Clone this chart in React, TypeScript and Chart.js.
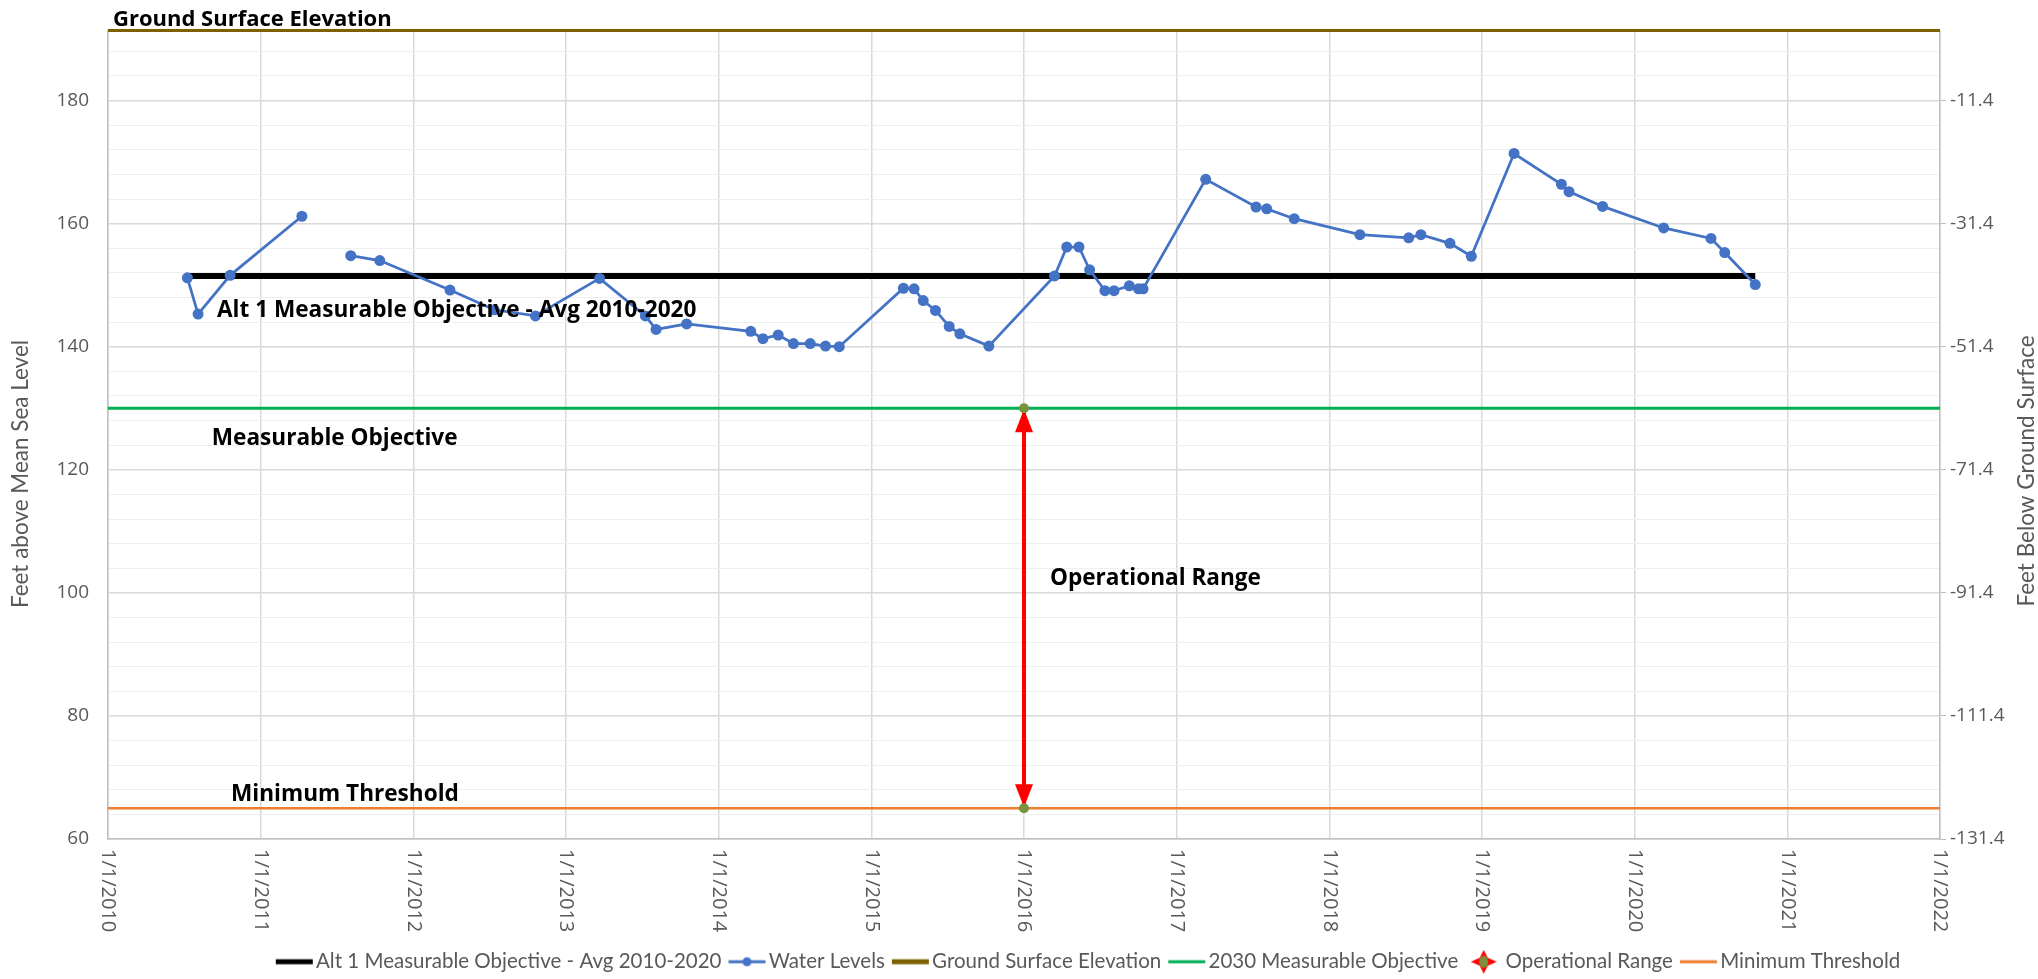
import React, { useEffect, useRef } from "react";
import { Chart, registerables } from "chart.js";
Chart.register(...registerables);

// ---------- data ----------
const waterYears = [
  2010.52, 2010.59, 2010.8, 2011.27, 2011.43, 2011.59, 2011.78, 2012.24, 2012.53, 2012.8,
  2013.22, 2013.52, 2013.59, 2013.79, 2014.21, 2014.29, 2014.39, 2014.49, 2014.6, 2014.7,
  2014.79, 2015.21, 2015.28, 2015.34, 2015.42, 2015.51, 2015.58, 2015.77, 2016.2, 2016.28,
  2016.36, 2016.43, 2016.53, 2016.59, 2016.69, 2016.75, 2016.78, 2017.19, 2017.52, 2017.59,
  2017.77, 2018.2, 2018.52, 2018.6, 2018.79, 2018.93, 2019.21, 2019.52, 2019.57, 2019.79,
  2020.19, 2020.5, 2020.59, 2020.79,
];
const waterLevels: (number | null)[] = [
  151.2, 145.3, 151.6, 161.2, null, 154.8, 154.0, 149.2, 146.0, 145.0,
  151.1, 145.0, 142.8, 143.7, 142.5, 141.3, 141.9, 140.5, 140.5, 140.1,
  140.0, 149.5, 149.4, 147.5, 145.9, 143.3, 142.1, 140.1, 151.5, 156.2,
  156.2, 152.5, 149.1, 149.1, 149.9, 149.4, 149.4, 167.2, 162.7, 162.4,
  160.8, 158.2, 157.7, 158.2, 156.8, 154.7, 171.4, 166.4, 165.2, 162.8,
  159.3, 157.6, 155.3, 150.1,
];

const groundSurfaceElevation = 191.4;
const measurableObjective2030 = 130;
const minimumThreshold = 65;
const alt1Objective = 151.5;
const alt1Years = [2010.52, 2020.79];
const operationalRangeYear = 2016;
const xYears = [2010, 2011, 2012, 2013, 2014, 2015, 2016, 2017, 2018, 2019, 2020, 2021, 2022];
const leftTickLabels = [60, 80, 100, 120, 140, 160, 180];
const leftGridLines = [
  60, 64, 68, 72, 76, 80, 84, 88, 92, 96, 100, 104, 108, 112, 116, 120, 124, 128, 132, 136,
  140, 144, 148, 152, 156, 160, 164, 168, 172, 176, 180, 184, 188,
];
const rightTickLabels = [-131.4, -111.4, -91.4, -71.4, -51.4, -31.4, -11.4];

const seriesNames = [
  "Alt 1 Measurable Objective - Avg 2010-2020",
  "Water Levels",
  "Ground Surface Elevation",
  "2030 Measurable Objective",
  "Operational Range",
  "Minimum Threshold",
];

// ---------- styles ----------
const GREY = "#595959";
const TICK_FONT = "Open Sans";
const LABEL_FONT = "Lato";
const NOTE_FONT = "Open Sans";
const BLUE = "#4472C4";
const BROWN = "#7F6000";
const GREEN = "#00B050";
const ORANGE = "#ED7D31";
const RED = "#FF0000";
const OLIVE = "#77933C";

// legend symbol canvas: 48 wide, centred on the 32px legend box, so the
// visible mark sits at the right end, close to the text
function makeSymbol(kind: string, color: string): HTMLCanvasElement {
  const c = document.createElement("canvas");
  c.width = 48;
  c.height = 24;
  const g = c.getContext("2d")!;
  const x0 = 10;
  const x1 = 47;
  const cx = (x0 + x1) / 2;
  if (kind === "diamond") {
    g.fillStyle = RED;
    g.beginPath();
    g.moveTo(cx, 0);
    g.lineTo(cx + 4, 8);
    g.lineTo(cx + 13, 12);
    g.lineTo(cx + 4, 16);
    g.lineTo(cx, 24);
    g.lineTo(cx - 4, 16);
    g.lineTo(cx - 13, 12);
    g.lineTo(cx - 4, 8);
    g.closePath();
    g.fill();
    g.fillStyle = OLIVE;
    g.beginPath();
    g.ellipse(cx, 12, 4.5, 6, 0, 0, Math.PI * 2);
    g.fill();
    return c;
  }
  g.strokeStyle = color;
  g.lineWidth = kind === "thick" ? 5 : 3;
  g.beginPath();
  g.moveTo(x0, 12);
  g.lineTo(x1, 12);
  g.stroke();
  if (kind === "marker") {
    g.fillStyle = color;
    g.beginPath();
    g.arc(cx, 12, 4.5, 0, Math.PI * 2);
    g.fill();
  }
  return c;
}

const overlayPlugin = {
  id: "overlay",
  afterLayout(chart: any) {
    const lg = chart.legend;
    if (lg) {
      lg.left += 68;
      lg.right += 68;
      lg.top += 3;
      lg.bottom += 3;
    }
  },
  beforeDatasetsDraw(chart: any) {
    const { ctx, scales } = chart;
    const x = scales.x.getPixelForValue(operationalRangeYear);
    const yTop = scales.y.getPixelForValue(measurableObjective2030);
    const yBot = scales.y.getPixelForValue(minimumThreshold);
    ctx.save();
    ctx.fillStyle = RED;
    ctx.beginPath();
    ctx.moveTo(x, yTop + 1);
    ctx.lineTo(x + 9, yTop + 24);
    ctx.lineTo(x - 9, yTop + 24);
    ctx.closePath();
    ctx.fill();
    ctx.beginPath();
    ctx.moveTo(x, yBot - 1);
    ctx.lineTo(x + 9, yBot - 24);
    ctx.lineTo(x - 9, yBot - 24);
    ctx.closePath();
    ctx.fill();
    ctx.restore();
  },
  afterDraw(chart: any) {
    const { ctx, scales, chartArea } = chart;
    const sx = scales.x;
    const sy = scales.y;
    ctx.save();
    // annotations
    ctx.fillStyle = "#000";
    ctx.textAlign = "left";
    ctx.textBaseline = "middle";
    ctx.font = `bold 22px ${NOTE_FONT}`;
    ctx.fillText("Ground Surface Elevation", chartArea.left + 5, chartArea.top - 11);
    ctx.font = `bold 22.6px ${NOTE_FONT}`;
    ctx.fillText("Alt 1 Measurable Objective - Avg 2010-2020", sx.getPixelForValue(2010.714), sy.getPixelForValue(145.8));
    ctx.fillText("Measurable Objective", sx.getPixelForValue(2010.68), sy.getPixelForValue(125));
    ctx.fillText("Operational Range", sx.getPixelForValue(2016.17), sy.getPixelForValue(102.4));
    ctx.fillText("Minimum Threshold", sx.getPixelForValue(2010.806), sy.getPixelForValue(67.2));

    // x tick labels rotated clockwise
    ctx.fillStyle = GREY;
    ctx.font = `20px ${TICK_FONT}`;
    for (const yr of xYears) {
      const px = sx.getPixelForValue(yr);
      ctx.save();
      ctx.translate(px, chartArea.bottom + 10);
      ctx.rotate(Math.PI / 2);
      ctx.textAlign = "left";
      ctx.textBaseline = "middle";
      ctx.fillText(`1/1/${yr}`, 0, 0);
      ctx.restore();
    }

    // axis titles
    ctx.font = `22.5px ${LABEL_FONT}`;
    ctx.fillStyle = GREY;
    ctx.textAlign = "center";
    ctx.textBaseline = "middle";
    ctx.save();
    ctx.translate(21, 474);
    ctx.rotate(-Math.PI / 2);
    ctx.fillText("Feet above Mean Sea Level", 0, 0);
    ctx.restore();
    ctx.save();
    ctx.translate(2027, 471);
    ctx.rotate(-Math.PI / 2);
    ctx.fillText("Feet Below Ground Surface", 0, 0);
    ctx.restore();
    ctx.restore();
  },
};

export default function App() {
  const ref = useRef<HTMLCanvasElement>(null);
  useEffect(() => {
    document.body.style.margin = "0";
    const symbols = [
      makeSymbol("thick", "#000"),
      makeSymbol("marker", BLUE),
      makeSymbol("thick", BROWN),
      makeSymbol("line", GREEN),
      makeSymbol("diamond", RED),
      makeSymbol("line", ORANGE),
    ];
    const xFull = [xYears[0], xYears[xYears.length - 1]];
    const chart = new Chart(ref.current!, {
      type: "line",
      data: {
        datasets: [
          {
            label: seriesNames[0],
            data: alt1Years.map((x) => ({ x, y: alt1Objective })),
            borderColor: "#000",
            borderWidth: 6,
            pointRadius: 0,
            order: 1,
          },
          {
            label: seriesNames[1],
            data: waterYears.map((x, i) => ({ x, y: waterLevels[i] })),
            borderColor: BLUE,
            backgroundColor: BLUE,
            borderWidth: 2.75,
            pointRadius: 5.5,
            pointBorderWidth: 0,
            spanGaps: false,
            order: 0,
          },
          {
            label: seriesNames[2],
            data: xFull.map((x) => ({ x, y: groundSurfaceElevation })),
            borderColor: BROWN,
            borderWidth: 3,
            pointRadius: 0,
            clip: false,
            order: 2,
          },
          {
            label: seriesNames[3],
            data: xFull.map((x) => ({ x, y: measurableObjective2030 })),
            borderColor: GREEN,
            borderWidth: 3,
            pointRadius: 0,
            order: 3,
          },
          {
            label: seriesNames[4],
            data: [
              { x: operationalRangeYear, y: measurableObjective2030 },
              { x: operationalRangeYear, y: minimumThreshold },
            ],
            borderColor: RED,
            backgroundColor: OLIVE,
            borderWidth: 4,
            pointRadius: 5,
            pointBorderWidth: 0,
            order: 2,
          },
          {
            label: seriesNames[5],
            data: xFull.map((x) => ({ x, y: minimumThreshold })),
            borderColor: ORANGE,
            borderWidth: 2.5,
            pointRadius: 0,
            order: 4,
          },
        ],
      },
      options: {
        responsive: false,
        animation: false,
        devicePixelRatio: 1,
        layout: { padding: { top: 28.6, left: 0, right: 0, bottom: 0 } },
        plugins: {
          tooltip: { enabled: false },
          legend: {
            position: "bottom",
            labels: {
              usePointStyle: true,
              pointStyleWidth: 32,
              padding: 5,
              color: GREY,
              font: { family: LABEL_FONT, size: 20.5 },
              sort: (a: any, b: any) => a.datasetIndex - b.datasetIndex,
              generateLabels: (ch: any) =>
                ch.data.datasets.map((d: any, i: number) => ({
                  text: d.label,
                  datasetIndex: i,
                  pointStyle: symbols[i],
                  fillStyle: "transparent",
                  strokeStyle: "transparent",
                  lineWidth: 0,
                  fontColor: GREY,
                  hidden: false,
                })),
            },
          },
        },
        scales: {
          x: {
            type: "linear",
            min: xYears[0],
            max: xYears[xYears.length - 1],
            afterBuildTicks: (s: any) => {
              s.ticks = xYears.map((v) => ({ value: v }));
            },
            ticks: { display: false },
            grid: { color: "#D9D9D9", lineWidth: 1.5, drawTicks: false },
            border: { display: true, color: "#BFBFBF", width: 1.5 },
            afterFit: (s: any) => {
              s.height = 104.5;
            },
          },
          y: {
            type: "linear",
            position: "left",
            min: 60,
            max: groundSurfaceElevation,
            afterBuildTicks: (s: any) => {
              s.ticks = leftGridLines.map((v) => ({ value: v }));
            },
            ticks: {
              autoSkip: false,
              padding: 19,
              color: GREY,
              font: { family: TICK_FONT, size: 19 },
              callback: (v: any) => (leftTickLabels.includes(v) ? String(v) : ""),
            },
            grid: {
              drawTicks: false,
              color: (c: any) => (leftTickLabels.includes(c.tick?.value) ? "#D9D9D9" : "#EFEFEF"),
              lineWidth: (c: any) => (leftTickLabels.includes(c.tick?.value) ? 1.5 : 1),
            },
            border: { display: true, color: "#BFBFBF", width: 1.5 },
            afterFit: (s: any) => {
              s.width = 108;
            },
          },
          y2: {
            type: "linear",
            position: "right",
            min: 60 - groundSurfaceElevation,
            max: 0,
            afterBuildTicks: (s: any) => {
              s.ticks = rightTickLabels.map((v) => ({ value: v }));
            },
            ticks: {
              autoSkip: false,
              padding: 4,
              color: GREY,
              font: { family: TICK_FONT, size: 19 },
              callback: (v: any) => Number(v).toFixed(1),
            },
            grid: { drawOnChartArea: false, drawTicks: true, tickLength: 6, color: "#BFBFBF" },
            border: { display: true, color: "#BFBFBF", width: 1.5 },
            afterFit: (s: any) => {
              s.width = 98;
            },
          },
        },
      },
      plugins: [overlayPlugin],
    });
    return () => chart.destroy();
  }, []);
  return (
    <div style={{ width: 2038, height: 979 }}>
      <canvas ref={ref} width={2038} height={979} />
    </div>
  );
}
